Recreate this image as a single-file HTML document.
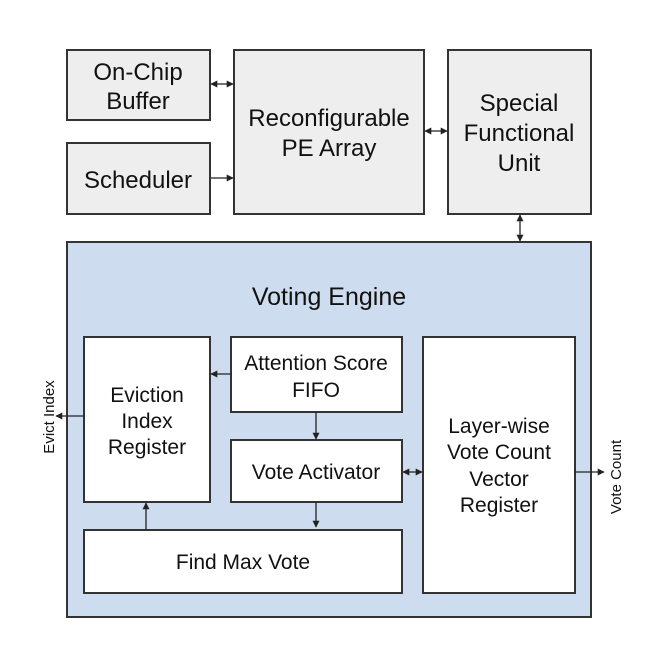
<!DOCTYPE html>
<html><head><meta charset="utf-8"><style>
html,body{margin:0;padding:0;background:#fff;}
svg{display:block;font-family:"Liberation Sans",Arial,sans-serif;}
</style></head><body>
<svg width="668" height="672" viewBox="0 0 668 672" xmlns="http://www.w3.org/2000/svg">
<defs>
<marker id="a" viewBox="0 0 10 10" refX="9" refY="5" markerWidth="7" markerHeight="7" orient="auto-start-reverse" markerUnits="userSpaceOnUse"><path d="M0,0 L10,5 L0,10 z" fill="#222"/></marker>
</defs>
<g stroke="#333" stroke-width="2">
<rect x="67" y="50" width="143" height="70" fill="#eeeeee"/>
<rect x="67" y="143" width="143" height="71" fill="#eeeeee"/>
<rect x="234" y="50" width="190" height="164" fill="#eeeeee"/>
<rect x="448" y="50" width="143" height="164" fill="#eeeeee"/>
<rect x="67" y="242" width="524" height="375" fill="#cddcee"/>
<rect x="84" y="337" width="126" height="165" fill="#fff"/>
<rect x="231" y="337" width="171" height="75" fill="#fff"/>
<rect x="231" y="440" width="171" height="62" fill="#fff"/>
<rect x="84" y="530" width="318" height="63" fill="#fff"/>
<rect x="423" y="337" width="152" height="256" fill="#fff"/>
</g>
<g stroke="#222" stroke-width="1.3" fill="none">
<line x1="211" y1="84" x2="233" y2="84" marker-start="url(#a)" marker-end="url(#a)"/>
<line x1="211" y1="178" x2="233" y2="178" marker-end="url(#a)"/>
<line x1="425" y1="131" x2="447" y2="131" marker-start="url(#a)" marker-end="url(#a)"/>
<line x1="520" y1="215" x2="520" y2="241" marker-start="url(#a)" marker-end="url(#a)"/>
<line x1="231" y1="374" x2="211" y2="374" marker-end="url(#a)"/>
<line x1="316" y1="412" x2="316" y2="439" marker-end="url(#a)"/>
<line x1="316" y1="502" x2="316" y2="527" marker-end="url(#a)"/>
<line x1="146" y1="530" x2="146" y2="503" marker-end="url(#a)"/>
<line x1="403" y1="472" x2="422" y2="472" marker-start="url(#a)" marker-end="url(#a)"/>
<line x1="84" y1="416" x2="56" y2="416" marker-end="url(#a)"/>
<line x1="575" y1="472" x2="604" y2="472" marker-end="url(#a)"/>
</g>
<g fill="#111" font-size="24" text-anchor="middle">
<text x="138" y="80">On-Chip</text>
<text x="138" y="109">Buffer</text>
<text x="138" y="188">Scheduler</text>
<text x="329" y="126">Reconfigurable</text>
<text x="329" y="156">PE Array</text>
<text x="519" y="111">Special</text>
<text x="519" y="141">Functional</text>
<text x="519" y="171">Unit</text>
<text x="329" y="305" font-size="25">Voting Engine</text>
<text x="316" y="370" font-size="21">Attention Score</text>
<text x="316" y="397" font-size="21">FIFO</text>
<text x="316" y="479" font-size="21">Vote Activator</text>
<text x="147" y="402" font-size="21">Eviction</text>
<text x="147" y="428" font-size="21">Index</text>
<text x="147" y="454" font-size="21">Register</text>
<text x="243" y="569" font-size="21">Find Max Vote</text>
<text x="499" y="433" font-size="21">Layer-wise</text>
<text x="499" y="459" font-size="21">Vote Count</text>
<text x="499" y="486" font-size="21">Vector</text>
<text x="499" y="512" font-size="21">Register</text>
<text font-size="15" transform="translate(54,417) rotate(-90)">Evict Index</text>
<text font-size="15" transform="translate(621,477) rotate(-90)">Vote Count</text>
</g>
</svg>
</body></html>
